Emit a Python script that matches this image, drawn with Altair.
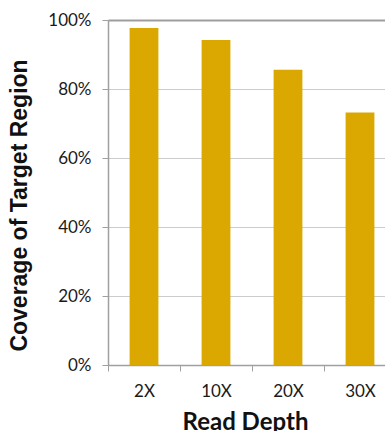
import altair as alt
import pandas as pd

categories = ["2X", "10X", "20X", "30X"]
coverage = [0.977, 0.942, 0.856, 0.732]

df = pd.DataFrame({"depth": categories, "coverage": coverage})

bars = alt.Chart(df).mark_bar(width=alt.RelativeBandSize(0.4), color="#DAA800").encode(
    x=alt.X(
        "depth:N",
        sort=categories,
        scale=alt.Scale(paddingInner=0, paddingOuter=0, range=[0, 288]),
        axis=alt.Axis(
            title="Read Depth",
            labelAngle=0,
            labelFont="Lato",
            labelFontSize=17,
            labelColor="#1a1a1a",
            labelPadding=12,
            tickBand="extent",
            tickSize=6,
            tickColor="#a0a0a0",
            domainColor="#a0a0a0",
            domainWidth=1.5,
            titleFont="Lato",
            titleFontWeight="bold",
            titleFontSize=24,
            titleColor="#111111",
            titlePadding=11,
            titleX=137,
        ),
    ),
    y=alt.Y(
        "coverage:Q",
        scale=alt.Scale(domain=[0, 1]),
        axis=alt.Axis(
            title="Coverage of Target Region",
            values=[0, 0.2, 0.4, 0.6, 0.8, 1.0],
            format=".0%",
            labelFont="Lato",
            labelFontSize=17,
            labelColor="#1a1a1a",
            labelPadding=11,
            tickSize=6,
            tickColor="#a0a0a0",
            domainColor="#a0a0a0",
            domainWidth=1.5,
            gridColor=alt.condition("datum.value == 1", alt.value("#9e9e9e"), alt.value("#cccccc")),
            gridWidth=alt.condition("datum.value == 1", alt.value(2), alt.value(1.2)),
            titleFont="Liberation Sans",
            titleFontWeight="bold",
            titleFontSize=23,
            titleColor="#111111",
            titlePadding=16,
            titleY=185,
        ),
    ),
)

chart = bars.properties(
    width=277,
    height=345,
    autosize=alt.AutoSizeParams(type="none"),
    padding={"left": 108, "top": 20, "right": 0, "bottom": 66},
).configure_view(stroke=None).configure(background="white")

chart.save("out.html", embed_options={"renderer": "svg", "actions": False})
